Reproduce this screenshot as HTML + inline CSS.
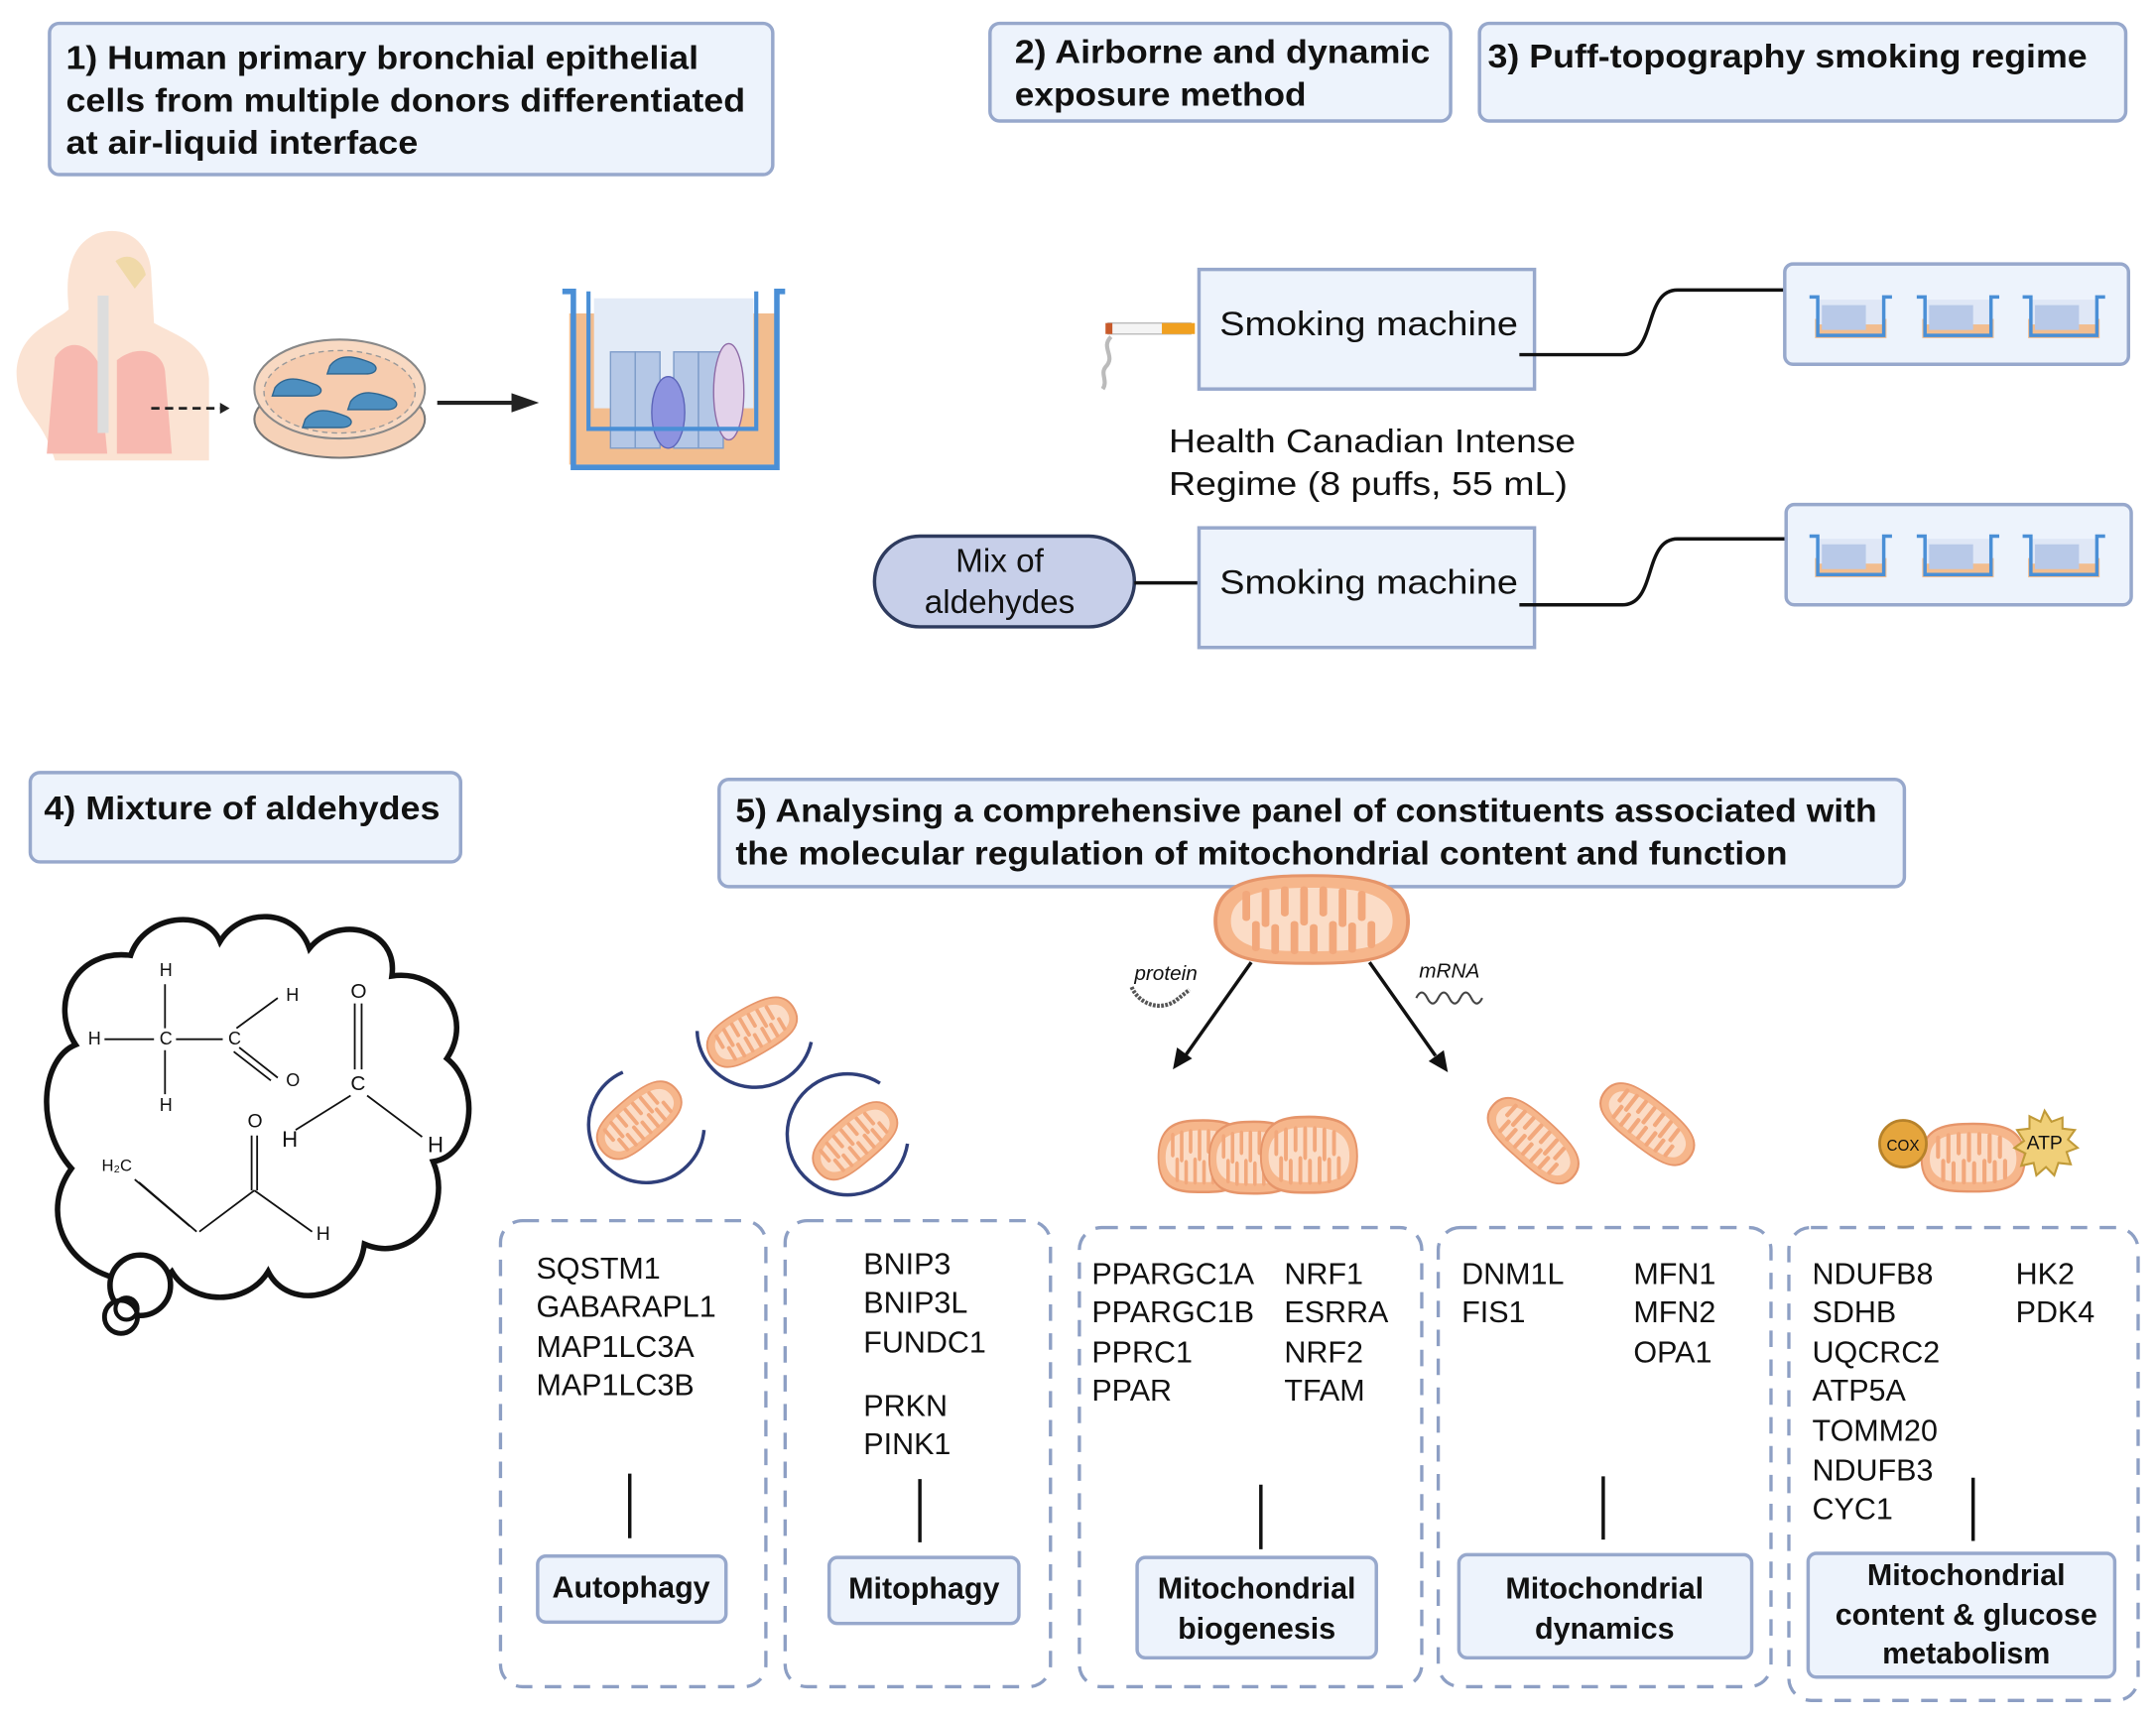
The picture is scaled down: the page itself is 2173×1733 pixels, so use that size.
<!DOCTYPE html>
<html><head><meta charset="utf-8"><style>
html,body{margin:0;padding:0;background:#fff;width:2173px;height:1733px;overflow:hidden}
svg{display:block}
text{font-family:"Liberation Sans",sans-serif;fill:#111}
.b{font-weight:bold}
.hb{fill:#edf3fc;stroke:#97a8cc;stroke-width:2.5}
.db{fill:none;stroke:#8d9fc4;stroke-width:2.4;stroke-dasharray:12 9}
.g{font-size:22px}
</style></head><body>
<svg width="2173" height="1733" viewBox="0 0 1568 1250.5" xmlns="http://www.w3.org/2000/svg">
<defs>
<g id="mito">
<path d="M-50,0 C-50,-28 -25,-30 0,-30 C30,-30 50,-25 50,0 C50,25 30,28 0,28 C-25,28 -50,28 -50,0Z" fill="#f6b68b" stroke="#e6956a" stroke-width="2"/>
<path d="M-42,0 C-42,-20 -20,-22 0,-22 C25,-22 42,-18 42,0 C42,18 25,20 0,20 C-20,20 -42,20 -42,0Z" fill="#fbdcc6"/>
<path d="M-34,-18 v16 M-24,-20 v22 M-14,-21 v16 M-4,-21 v22 M6,-21 v16 M16,-20 v22 M26,-18 v16 M-29,18 v-16 M-19,20 v-16 M-9,20 v-18 M1,20 v-16 M11,20 v-18 M21,19 v-16 M31,16 v-14" stroke="#f2a87c" stroke-width="4" stroke-linecap="round"/>
</g>
<g id="tw">
<rect x="4" y="18" width="52" height="14" fill="#f2bd8f"/>
<rect x="6" y="4" width="48" height="18" fill="#dfe7f6"/>
<path d="M9,8 h32 v18 h-32z" fill="#b8c9e8"/>
<path d="M0,2 h6 v28 h48 v-28 h6" fill="none" stroke="#4a8fd6" stroke-width="2.5"/>
</g>
</defs>

<rect class="hb" x="36" y="17" width="526" height="110" rx="7"/>
<text class="b" x="48" y="50" font-size="24" textLength="460" lengthAdjust="spacingAndGlyphs">1) Human primary bronchial epithelial</text>
<text class="b" x="48" y="81" font-size="24" textLength="494" lengthAdjust="spacingAndGlyphs">cells from multiple donors differentiated</text>
<text class="b" x="48" y="112" font-size="24" textLength="256" lengthAdjust="spacingAndGlyphs">at air-liquid interface</text>

<rect class="hb" x="720" y="17" width="335" height="71" rx="7"/>
<text class="b" x="738" y="46" font-size="24" textLength="302" lengthAdjust="spacingAndGlyphs">2) Airborne and dynamic</text>
<text class="b" x="738" y="77" font-size="24" textLength="212" lengthAdjust="spacingAndGlyphs">exposure method</text>

<rect class="hb" x="1076" y="17" width="470" height="71" rx="7"/>
<text class="b" x="1082" y="49" font-size="24" textLength="436" lengthAdjust="spacingAndGlyphs">3) Puff-topography smoking regime</text>

<rect class="hb" x="22" y="562" width="313" height="65" rx="7"/>
<text class="b" x="32" y="596" font-size="24" textLength="288" lengthAdjust="spacingAndGlyphs">4) Mixture of aldehydes</text>

<rect class="hb" x="523" y="567" width="862" height="78" rx="7"/>
<text class="b" x="535" y="598" font-size="24" textLength="830" lengthAdjust="spacingAndGlyphs">5) Analysing a comprehensive panel of constituents associated with</text>
<text class="b" x="535" y="629" font-size="24" textLength="765" lengthAdjust="spacingAndGlyphs">the molecular regulation of mitochondrial content and function</text>

<path d="M40,335 C30,300 12,300 12,270 C14,240 40,235 50,225 C48,205 48,180 70,170 C95,162 110,180 110,200 L112,235 C130,245 150,250 152,275 L152,335Z" fill="#fbe3d3"/>
<path d="M40,260 C50,245 65,250 72,265 L78,330 L34,330 Z" fill="#f7b9b0"/>
<path d="M85,262 C100,250 118,255 120,270 L125,330 L85,330Z" fill="#f7b9b0"/>
<path d="M75,215 v100" stroke="#ddd" stroke-width="8"/>
<path d="M84,190 c10,-8 20,0 22,10 l-8,10z" fill="#f0d9a8"/>
<path d="M110,297 h52" stroke="#222" stroke-width="2" stroke-dasharray="6 4"/>
<path d="M160,293 l7,4 l-7,4z" fill="#222"/>
<ellipse cx="247" cy="305" rx="62" ry="28" fill="#f6d2b8" stroke="#777" stroke-width="1.5"/>
<ellipse cx="247" cy="283" rx="62" ry="36" fill="#f8d9c2" stroke="#888" stroke-width="1.5"/>
<ellipse cx="247" cy="285" rx="55" ry="30" fill="#f6ccaf" stroke="#999" stroke-dasharray="4 3"/>
<path d="M200,282 c8,-10 20,-6 30,-2 c6,3 4,8 -4,8 h-28z" fill="#4d8fc0" stroke="#2f6690"/>
<path d="M240,266 c8,-10 20,-6 30,-2 c6,3 4,8 -4,8 h-28z" fill="#4d8fc0" stroke="#2f6690"/>
<path d="M255,292 c8,-10 20,-6 30,-2 c6,3 4,8 -4,8 h-28z" fill="#4d8fc0" stroke="#2f6690"/>
<path d="M222,305 c8,-10 20,-6 30,-2 c6,3 4,8 -4,8 h-28z" fill="#4d8fc0" stroke="#2f6690"/>
<path d="M318,293 h55" stroke="#222" stroke-width="3"/>
<path d="M372,286 l20,7 l-20,7z" fill="#222"/>
<rect x="414" y="228" width="152" height="110" fill="#f2bd8f"/>
<rect x="432" y="217" width="116" height="80" fill="#e3ebf7"/>
<g fill="#b4c7e6" stroke="#7d9cc9"><rect x="444" y="256" width="18" height="70"/><rect x="462" y="256" width="18" height="70"/><rect x="490" y="256" width="18" height="70"/><rect x="508" y="256" width="18" height="70"/></g>
<ellipse cx="486" cy="300" rx="12" ry="26" fill="#8d93e0" stroke="#5c64b8"/>
<ellipse cx="530" cy="285" rx="11" ry="35" fill="#e2d2ea" stroke="#8e6aa6"/>
<path d="M409,212 h8 v128 h148 v-128 h6" fill="none" stroke="#4a8fd6" stroke-width="4"/>
<path d="M428,212 v100 h122 v-100" fill="none" stroke="#4a8fd6" stroke-width="3"/>

<rect x="806" y="235" width="60" height="8" fill="#f4f4f4" stroke="#bbb"/>
<rect x="845" y="235" width="24" height="8" fill="#f0a020"/>
<rect x="804" y="235" width="5" height="8" fill="#c85a2a"/>
<path d="M808,245 c-8,8 4,14 -4,22 c-4,5 2,10 -2,16" fill="none" stroke="#bbb" stroke-width="3"/>
<rect x="872" y="196" width="244" height="87" fill="#edf3fc" stroke="#97a8cc" stroke-width="2.5"/>
<text x="887" y="244" font-size="25" textLength="217" lengthAdjust="spacingAndGlyphs">Smoking machine</text>
<path d="M1105,258 H1180 C1205,258 1195,211 1220,211 H1298" fill="none" stroke="#111" stroke-width="2.5"/>
<rect class="hb" x="1298" y="192" width="250" height="73" rx="6"/>
<use href="#tw" x="1316" y="214"/><use href="#tw" x="1394" y="214"/><use href="#tw" x="1471" y="214"/>

<text x="850" y="329" font-size="24" textLength="296" lengthAdjust="spacingAndGlyphs">Health Canadian Intense</text>
<text x="850" y="360" font-size="24" textLength="290" lengthAdjust="spacingAndGlyphs">Regime (8 puffs, 55 mL)</text>

<rect x="636" y="390" width="189" height="66" rx="33" fill="#c7cfe9" stroke="#2e3b5e" stroke-width="2.5"/>
<text x="727" y="416" font-size="24" text-anchor="middle">Mix of</text>
<text x="727" y="446" font-size="24" text-anchor="middle">aldehydes</text>
<path d="M825,424 H885" stroke="#111" stroke-width="2.5"/>
<rect x="872" y="384" width="244" height="87" fill="#edf3fc" stroke="#97a8cc" stroke-width="2.5"/>
<text x="887" y="432" font-size="25" textLength="217" lengthAdjust="spacingAndGlyphs">Smoking machine</text>
<path d="M1105,440 H1180 C1205,440 1195,392 1220,392 H1298" fill="none" stroke="#111" stroke-width="2.5"/>
<rect class="hb" x="1299" y="367" width="251" height="73" rx="6"/>
<use href="#tw" x="1316" y="388"/><use href="#tw" x="1394" y="388"/><use href="#tw" x="1471" y="388"/>

<path d="M85,930 C45,920 30,880 52,850 C25,820 30,770 55,760 C35,730 55,690 95,695 C105,665 150,660 160,685 C175,660 215,660 225,690 C245,665 290,675 285,710 C320,705 345,740 325,770 C350,790 345,840 315,845 C330,880 300,920 265,905 C260,945 210,955 195,925 C180,950 140,950 125,925 C115,935 95,940 85,930Z" fill="#fff" stroke="#111" stroke-width="4"/>
<circle cx="102" cy="935" r="22" fill="#fff" stroke="#111" stroke-width="4"/>
<circle cx="88" cy="958" r="12" fill="#fff" stroke="#111" stroke-width="3.5"/>
<circle cx="92" cy="952" r="8" fill="none" stroke="#111" stroke-width="3"/>
<g font-size="13">
<text x="116" y="710">H</text><text x="64" y="760">H</text><text x="116" y="760">C</text><text x="166" y="760">C</text><text x="208" y="728">H</text><text x="208" y="790">O</text><text x="116" y="808">H</text>
<text x="255" y="726" font-size="15">O</text><text x="255" y="793" font-size="15">C</text><text x="205" y="834" font-size="16">H</text><text x="311" y="838" font-size="16">H</text>
<text x="180" y="820" font-size="14">O</text><text x="74" y="852" font-size="12">H₂C</text><text x="230" y="902" font-size="14">H</text>
</g>
<g stroke="#111" stroke-width="1.3" fill="none">
<path d="M120,716 v32 M120,764 v32 M76,756 h36 M128,756 h34 M172,748 l30,-22 M174,762 l28,22 M170,765 l27,21"/>
<path d="M258,730 v48 M263,730 v48 M255,797 l-40,25 M267,797 l40,30"/>
<path d="M183,826 v40 M187,826 v40 M185,866 l-40,30 M185,866 l42,30 M143,896 l-42,-36 M138,892 l-40,-34"/>
</g>

<g stroke="#2f3f7a" stroke-width="2.5" fill="none">
<path d="M453,780 A42,42 0 1 0 512,822"/>
<path d="M507,750 A42,42 0 0 0 590,758"/>
<path d="M640,788 A44,44 0 1 0 660,832"/>
</g>
<use href="#mito" transform="translate(465,815) rotate(-40) scale(0.7,0.6)"/>
<use href="#mito" transform="translate(547,751) rotate(-30) scale(0.7,0.6)"/>
<use href="#mito" transform="translate(622,830) rotate(-40) scale(0.7,0.6)"/>

<use href="#mito" transform="translate(954,670) scale(1.4,1.1)"/>
<path d="M910,700 L862,768" stroke="#111" stroke-width="2.5"/>
<path d="M853,778 l3,-16 l11,8z" fill="#111"/>
<path d="M996,700 L1044,768" stroke="#111" stroke-width="2.5"/>
<path d="M1053,780 l-14,-8 l11,-8z" fill="#111"/>
<text x="825" y="713" font-size="15" font-style="italic">protein</text>
<path d="M823,718 c5,12 20,18 32,10 l10,-8" fill="none" stroke="#555" stroke-width="3" stroke-dasharray="2 1"/>
<text x="1032" y="711" font-size="15" font-style="italic">mRNA</text>
<path d="M1030,726 q4,-8 8,0 t8,0 t8,0 t8,0 t8,0 t8,0" fill="none" stroke="#444" stroke-width="1.5"/>

<use href="#mito" transform="translate(875,842) scale(0.65,0.9)"/>
<use href="#mito" transform="translate(912,843) scale(0.65,0.9)"/>
<use href="#mito" transform="translate(952,841) scale(0.7,0.95)"/>
<use href="#mito" transform="translate(1115,830) rotate(42) scale(0.78,0.6)"/>
<use href="#mito" transform="translate(1198,818) rotate(38) scale(0.78,0.6)"/>
<use href="#mito" transform="translate(1435,843) scale(0.75,0.85)"/>
<circle cx="1384" cy="832" r="17" fill="#e5a53c" stroke="#b7822a" stroke-width="2"/>
<text x="1384" y="837" font-size="11" text-anchor="middle">COX</text>
<path d="M1487,808 l5,8 8,-3 0,8 9,1 -5,7 7,6 -8,3 3,9 -9,-1 -3,9 -6,-6 -7,6 -2,-9 -9,2 3,-9 -8,-4 7,-5 -5,-8 9,-1 0,-9 8,4z" fill="#f0cf78" stroke="#c09a38" stroke-width="1.5"/>
<text x="1487" y="836" font-size="14" text-anchor="middle">ATP</text>

<rect class="db" x="364" y="888" width="193" height="339" rx="16"/>
<rect class="db" x="571" y="888" width="193" height="339" rx="16"/>
<rect class="db" x="785" y="893" width="249" height="334" rx="16"/>
<rect class="db" x="1046" y="893" width="242" height="334" rx="16"/>
<rect class="db" x="1301" y="893" width="254" height="344" rx="16"/>

<g class="g">
<text x="390" y="930">SQSTM1</text><text x="390" y="958">GABARAPL1</text><text x="390" y="987">MAP1LC3A</text><text x="390" y="1015">MAP1LC3B</text>
<text x="628" y="927">BNIP3</text><text x="628" y="955">BNIP3L</text><text x="628" y="984">FUNDC1</text><text x="628" y="1030">PRKN</text><text x="628" y="1058">PINK1</text>
<text x="794" y="934">PPARGC1A</text><text x="794" y="962">PPARGC1B</text><text x="794" y="991">PPRC1</text><text x="794" y="1019">PPAR</text>
<text x="934" y="934">NRF1</text><text x="934" y="962">ESRRA</text><text x="934" y="991">NRF2</text><text x="934" y="1019">TFAM</text>
<text x="1063" y="934">DNM1L</text><text x="1063" y="962">FIS1</text>
<text x="1188" y="934">MFN1</text><text x="1188" y="962">MFN2</text><text x="1188" y="991">OPA1</text>
<text x="1318" y="934">NDUFB8</text><text x="1318" y="962">SDHB</text><text x="1318" y="991">UQCRC2</text><text x="1318" y="1019">ATP5A</text><text x="1318" y="1048">TOMM20</text><text x="1318" y="1077">NDUFB3</text><text x="1318" y="1105">CYC1</text>
<text x="1466" y="934">HK2</text><text x="1466" y="962">PDK4</text>
</g>
<g stroke="#111" stroke-width="2.5">
<path d="M458,1072 v47 M669,1076 v46 M917,1080 v47 M1166,1074 v46 M1435,1075 v46"/>
</g>
<rect class="hb" x="391" y="1132" width="137" height="48" rx="6"/>
<text class="b" x="459" y="1162" font-size="22" text-anchor="middle">Autophagy</text>
<rect class="hb" x="603" y="1133" width="138" height="48" rx="6"/>
<text class="b" x="672" y="1163" font-size="22" text-anchor="middle">Mitophagy</text>
<rect class="hb" x="827" y="1133" width="174" height="73" rx="6"/>
<text class="b" x="914" y="1163" font-size="22" text-anchor="middle">Mitochondrial</text>
<text class="b" x="914" y="1192" font-size="22" text-anchor="middle">biogenesis</text>
<rect class="hb" x="1061" y="1131" width="213" height="75" rx="6"/>
<text class="b" x="1167" y="1163" font-size="22" text-anchor="middle">Mitochondrial</text>
<text class="b" x="1167" y="1192" font-size="22" text-anchor="middle">dynamics</text>
<rect class="hb" x="1315" y="1130" width="223" height="90" rx="6"/>
<text class="b" x="1430" y="1153" font-size="22" text-anchor="middle">Mitochondrial</text>
<text class="b" x="1430" y="1182" font-size="22" text-anchor="middle">content &amp; glucose</text>
<text class="b" x="1430" y="1210" font-size="22" text-anchor="middle">metabolism</text>
</svg>
</body></html>
